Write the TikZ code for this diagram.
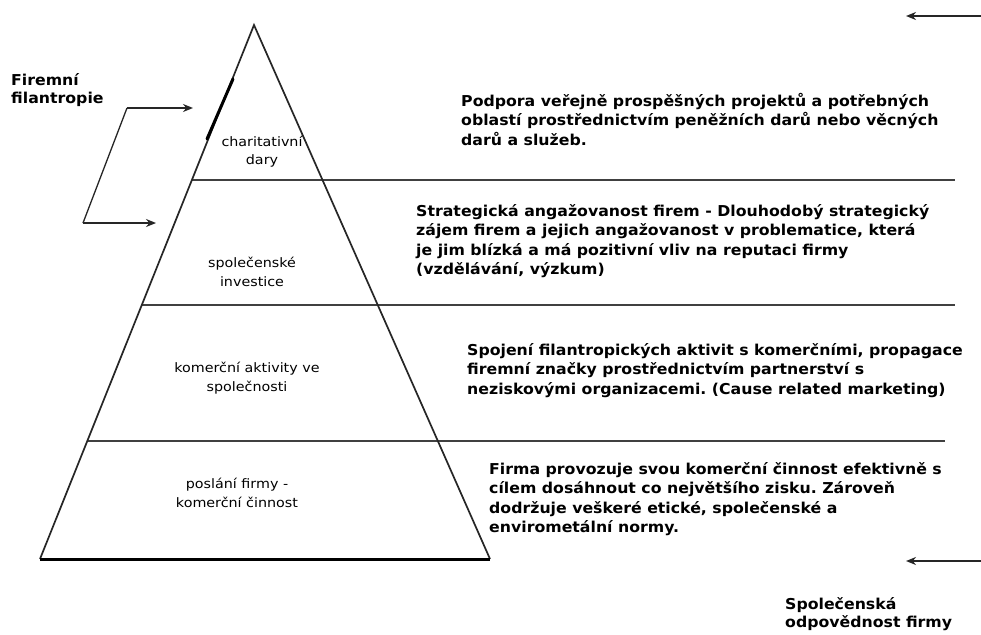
\documentclass[tikz,border=0pt]{standalone}
\usepackage{fontspec}
\usetikzlibrary{arrows.meta}
\newfontfamily\descfont[FakeStretch=1.05]{DejaVu Sans}
\newfontfamily\levelfont[FakeStretch=1.1]{DejaVu Sans}
\frenchspacing
\begin{document}
\begin{tikzpicture}[x=1pt,y=-1pt,
  edge/.style={line width=1.7pt,draw=black!85},
  tier/.style={line width=1.6pt,draw=black!75},
  pointer/.style={line width=1.6pt,draw=black!85,-{Stealth[length=10pt,width=8pt]}},
  desc/.style={font=\descfont\bfseries\fontsize{15}{19.5}\selectfont,align=left,anchor=north west,inner sep=0pt},
  level/.style={font=\levelfont\fontsize{13}{19}\selectfont,align=center,inner sep=0pt},
  side/.style={font=\descfont\bfseries\fontsize{15}{18.5}\selectfont,align=left,anchor=north west,inner sep=0pt}]
\useasboundingbox (0,0) rectangle (981,634);
\fill[white] (0,0) rectangle (981,634);

% pyramid corners
\coordinate (apex) at (254,25);
\coordinate (bl) at (40,559);
\coordinate (br) at (490,559);

% tier boundaries: start on the left face, run out to the right
\coordinate (t1l) at (192,180);  \coordinate (t1r) at (955,180);
\coordinate (t2l) at (142,305);  \coordinate (t2r) at (955,305);
\coordinate (t3l) at (87,441);   \coordinate (t3r) at (945,441);
\draw[tier] (t1l) -- (t1r);
\draw[tier] (t2l) -- (t2r);
\draw[tier] (t3l) -- (t3r);

% pyramid outline with a heavier base
\draw[edge,line join=miter] (bl) -- (apex) -- (br);
\draw[line width=3pt] (bl) -- (br);

% emphasised stretch of the left face
\coordinate (h1) at (233,79);
\coordinate (h2) at (207,139);
\draw[line width=3pt,line cap=round] (h1) -- (h2);

% tier labels
\node[level,font=\levelfont\fontsize{13}{18}\selectfont] (l1) at (262,152) {charitativní\\dary};
\node[level] (l2) at (252,272) {společenské\\investice};
\node[level] (l3) at (247,378) {komerční aktivity ve\\společnosti};
\node[level] (l4) at (237,493) {poslání firmy -\\komerční činnost};

% descriptions
\node[desc] (d1) at (461,93) {Podpora veřejně prospěšných projektů a potřebných\\oblastí prostřednictvím peněžních darů nebo věcných\\darů a služeb.};
\node[desc] (d2) at (416,204) {Strategická angažovanost firem - Dlouhodobý strategický\\zájem firem a jejich angažovanost v problematice, která\\je jim blízká a má pozitivní vliv na reputaci firmy\\(vzdělávání, výzkum)};
\node[desc] (d3) at (467,343) {Spojení filantropických aktivit s komerčními, propagace\\firemní značky prostřednictvím partnerství s\\neziskovými organizacemi. (Cause related marketing)};
\node[desc] (d4) at (489,462) {Firma provozuje svou komerční činnost efektivně s\\cílem dosáhnout co největšího zisku. Zároveň\\dodržuje veškeré etické, společenské a\\envirometální normy.};

% corporate philanthropy bracket
\node[side] (fp) at (11,73) {Firemní\\filantropie};
\coordinate (b1) at (127,108);
\coordinate (b1t) at (193,108);
\coordinate (b2) at (83,223);
\coordinate (b2t) at (156,223);
\draw[line width=1.3pt,draw=black!85] (b1) -- (b2);
\draw[pointer] (b1) -- (b1t);
\draw[pointer] (b2) -- (b2t);

% corporate social responsibility span
\node[side] (csr) at (785,597) {Společenská\\odpovědnost firmy};
\coordinate (ra) at (981,16);
\coordinate (rat) at (906,16);
\coordinate (rb) at (981,561);
\coordinate (rbt) at (906,561);
\draw[pointer] (ra) -- (rat);
\draw[pointer] (rb) -- (rbt);
\end{tikzpicture}
\end{document}
